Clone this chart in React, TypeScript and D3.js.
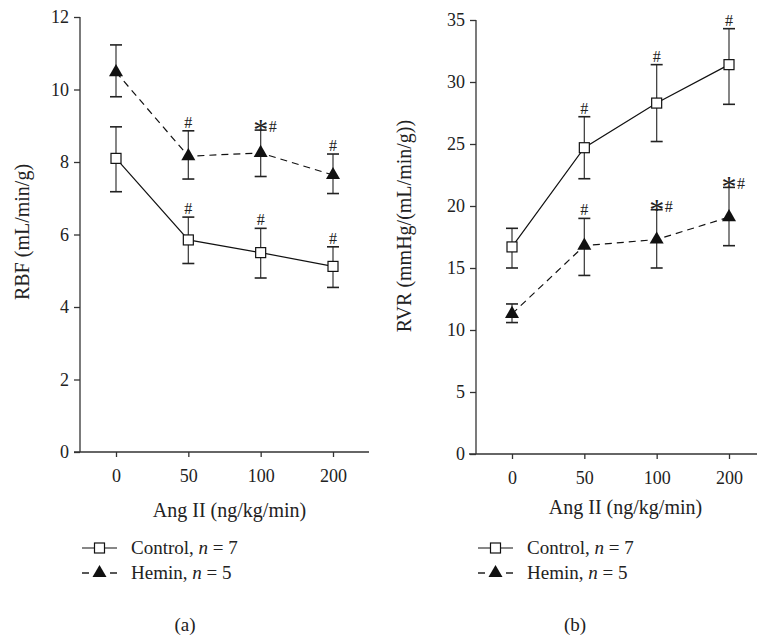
import React, { useEffect, useRef } from "react";
import * as d3 from "d3";

// Ang II doses (categorical x)
const doses = ["0", "50", "100", "200"];

// panel (a) RBF, mL/min/g
const rbfTicks = [0, 2, 4, 6, 8, 10, 12];
const rbfControl = [8.1, 5.85, 5.5, 5.12];
const rbfControlHi = [8.97, 6.48, 6.17, 5.66];
const rbfControlLo = [7.18, 5.2, 4.8, 4.54];
const rbfControlMarks = ["", "#", "#", "#"];
const rbfHemin = [10.48, 8.16, 8.25, 7.64];
const rbfHeminHi = [11.23, 8.86, 8.88, 8.22];
const rbfHeminLo = [9.8, 7.53, 7.6, 7.13];
const rbfHeminMarks = ["", "#", "*#", "#"];

// panel (b) RVR, mmHg/(mL/min/g)
const rvrTicks = [0, 5, 10, 15, 20, 25, 30, 35];
const rvrControl = [16.7, 24.7, 28.3, 31.4];
const rvrControlHi = [18.2, 27.2, 31.4, 34.3];
const rvrControlLo = [15.0, 22.2, 25.2, 28.2];
const rvrControlMarks = ["", "#", "#", "#"];
const rvrHemin = [11.3, 16.8, 17.3, 19.1];
const rvrHeminHi = [12.1, 19.0, 19.7, 21.5];
const rvrHeminLo = [10.6, 14.4, 15.0, 16.8];
const rvrHeminMarks = ["", "#", "*#", "*#"];

const FONT = "'Liberation Serif', 'DejaVu Serif', serif";
const INK = "#222";

type Series = { mean: number[]; hi: number[]; lo: number[]; marks: string[]; kind: "square" | "triangle" };

type PanelCfg = {
  axisX: number; // y-axis line x
  axisLeft: number; // x-axis line start
  axisRight: number; // x-axis line end
  firstX: number;
  lastX: number;
  top: number;
  bottom: number;
  yMax: number;
  ticks: number[];
  yTitle: string;
  yTitleX: number;
  yTitleY: number;
  xTitleY: number;
  legendX: number;
  caption: string;
  captionX: number;
  series: Series[];
};

function drawPanel(svg: d3.Selection<SVGSVGElement, unknown, null, undefined>, cfg: PanelCfg) {
  const g = svg.append("g");
  const x = d3.scalePoint<string>().domain(doses).range([cfg.firstX, cfg.lastX]);
  const y = d3.scaleLinear().domain([0, cfg.yMax]).range([cfg.bottom, cfg.top]);

  // y axis
  const ya = g.append("g").attr("transform", `translate(${cfg.axisX},0)`)
    .call(d3.axisLeft(y).tickValues(cfg.ticks).tickSize(6).tickSizeOuter(0).tickPadding(5));
  ya.select(".domain").remove();
  ya.selectAll("line").attr("stroke", "#333").attr("stroke-width", 1.3);
  ya.selectAll("text").attr("font-family", FONT).attr("font-size", 18).attr("fill", INK);

  g.append("line").attr("x1", cfg.axisX).attr("x2", cfg.axisX).attr("y1", cfg.top).attr("y2", cfg.bottom)
    .attr("stroke", "#333").attr("stroke-width", 1.3);

  // x axis
  const xa = g.append("g").attr("transform", `translate(0,${cfg.bottom})`)
    .call(d3.axisBottom(x).tickSize(5).tickSizeOuter(0).tickPadding(12));
  xa.select(".domain").remove();
  xa.selectAll("line").attr("stroke", "#333").attr("stroke-width", 1.3);
  xa.selectAll("text").attr("font-family", FONT).attr("font-size", 18).attr("fill", INK);
  g.append("line").attr("x1", cfg.axisLeft).attr("x2", cfg.axisRight).attr("y1", cfg.bottom).attr("y2", cfg.bottom)
    .attr("stroke", "#333").attr("stroke-width", 1.3);

  // titles
  g.append("text").attr("transform", `translate(${cfg.yTitleX},${cfg.yTitleY}) rotate(-90)`)
    .attr("text-anchor", "middle").attr("font-family", FONT).attr("font-size", 20).attr("fill", INK)
    .text(cfg.yTitle);
  g.append("text").attr("x", (cfg.firstX + cfg.lastX) / 2 + 5).attr("y", cfg.xTitleY)
    .attr("text-anchor", "middle").attr("font-family", FONT).attr("font-size", 20).attr("fill", INK)
    .text("Ang II (ng/kg/min)");

  cfg.series.forEach((s) => {
    const pts = doses.map((d, i) => ({ d, i, v: s.mean[i], hi: s.hi[i], lo: s.lo[i], m: s.marks[i] }));

    // error bars
    const eb = g.append("g");
    pts.forEach((p) => {
      const cx = x(p.d)!;
      eb.append("line").attr("x1", cx).attr("x2", cx).attr("y1", y(p.hi)).attr("y2", y(p.lo))
        .attr("stroke", "#444").attr("stroke-width", 1.3);
      [p.hi, p.lo].forEach((v) => {
        eb.append("line").attr("x1", cx - 6).attr("x2", cx + 6).attr("y1", y(v)).attr("y2", y(v))
          .attr("stroke", "#222").attr("stroke-width", 1.6);
      });
    });

    // line
    const line = d3.line<typeof pts[0]>().x((p) => x(p.d)!).y((p) => y(p.v));
    g.append("path").datum(pts).attr("d", line).attr("fill", "none").attr("stroke", "#111")
      .attr("stroke-width", 1.2).attr("stroke-dasharray", s.kind === "triangle" ? "7,5" : null);

    // markers
    pts.forEach((p) => {
      drawMarker(g, s.kind, x(p.d)!, y(p.v));
    });

    // significance marks
    pts.forEach((p) => {
      const cx = x(p.d)!;
      const yt = y(p.hi);
      if (p.m === "#") {
        g.append("text").attr("x", cx).attr("y", yt - 3).attr("text-anchor", "middle")
          .attr("font-family", FONT).attr("font-size", 16).attr("fill", INK).text("#");
      } else if (p.m === "*#") {
        g.append("text").attr("x", cx).attr("y", yt + 9).attr("text-anchor", "middle")
          .attr("font-family", FONT).attr("font-size", 30).attr("fill", INK).text("*");
        g.append("text").attr("x", cx + 12).attr("y", yt + 2).attr("text-anchor", "middle")
          .attr("font-family", FONT).attr("font-size", 16).attr("fill", INK).text("#");
      }
    });
  });

  // legend
  const labels = [
    { name: "Control, ", n: "7", kind: "square" as const, y: 548 },
    { name: "Hemin, ", n: "5", kind: "triangle" as const, y: 573 },
  ];
  labels.forEach((l) => {
    const lx = cfg.legendX;
    if (l.kind === "square") {
      g.append("line").attr("x1", lx).attr("x2", lx + 35).attr("y1", l.y).attr("y2", l.y)
        .attr("stroke", "#111").attr("stroke-width", 1.2);
    } else {
      [[lx, lx + 7], [lx + 28, lx + 35]].forEach(([a, b]) => {
        g.append("line").attr("x1", a).attr("x2", b).attr("y1", l.y).attr("y2", l.y)
          .attr("stroke", "#111").attr("stroke-width", 1.4);
      });
    }
    drawMarker(g, l.kind, lx + 17.5, l.y);
    const t = g.append("text").attr("x", lx + 49).attr("y", l.y + 6)
      .attr("font-family", FONT).attr("font-size", 19).attr("fill", INK);
    t.append("tspan").text(l.name);
    t.append("tspan").attr("font-style", "italic").text("n");
    t.append("tspan").text(" = " + l.n);
  });

  g.append("text").attr("x", cfg.captionX).attr("y", 631).attr("text-anchor", "middle")
    .attr("font-family", FONT).attr("font-size", 19).attr("fill", INK).text(cfg.caption);
}

function drawMarker(g: d3.Selection<SVGGElement, unknown, null, undefined>, kind: string, cx: number, cy: number) {
  if (kind === "square") {
    g.append("rect").attr("x", cx - 5).attr("y", cy - 5).attr("width", 10).attr("height", 10)
      .attr("fill", "#fff").attr("stroke", "#111").attr("stroke-width", 1.2);
  } else {
    const sym = d3.symbol().type(d3.symbolTriangle).size(85);
    g.append("path").attr("d", sym()).attr("transform", `translate(${cx},${cy})`).attr("fill", "#111");
  }
}

export default function App() {
  const ref = useRef<SVGSVGElement>(null);

  useEffect(() => {
    const svg = d3.select(ref.current!);
    svg.selectAll("*").remove();

    drawPanel(svg, {
      axisX: 80, axisLeft: 74, axisRight: 369, firstX: 116, lastX: 333,
      top: 17, bottom: 452, yMax: 12, ticks: rbfTicks,
      yTitle: "RBF (mL/min/g)", yTitleX: 29, yTitleY: 232, xTitleY: 517,
      legendX: 82, caption: "(a)", captionX: 185,
      series: [
        { mean: rbfControl, hi: rbfControlHi, lo: rbfControlLo, marks: rbfControlMarks, kind: "square" },
        { mean: rbfHemin, hi: rbfHeminHi, lo: rbfHeminLo, marks: rbfHeminMarks, kind: "triangle" },
      ],
    });

    drawPanel(svg, {
      axisX: 476, axisLeft: 469, axisRight: 757, firstX: 512, lastX: 729,
      top: 20, bottom: 454, yMax: 35, ticks: rvrTicks,
      yTitle: "RVR (mmHg/(mL/min/g))", yTitleX: 411, yTitleY: 226, xTitleY: 514,
      legendX: 478, caption: "(b)", captionX: 575,
      series: [
        { mean: rvrControl, hi: rvrControlHi, lo: rvrControlLo, marks: rvrControlMarks, kind: "square" },
        { mean: rvrHemin, hi: rvrHeminHi, lo: rvrHeminLo, marks: rvrHeminMarks, kind: "triangle" },
      ],
    });
  }, []);

  return (
    <svg ref={ref} width={757} height={638}
      style={{ position: "absolute", left: 0, top: 0, background: "#fff" }} />
  );
}
